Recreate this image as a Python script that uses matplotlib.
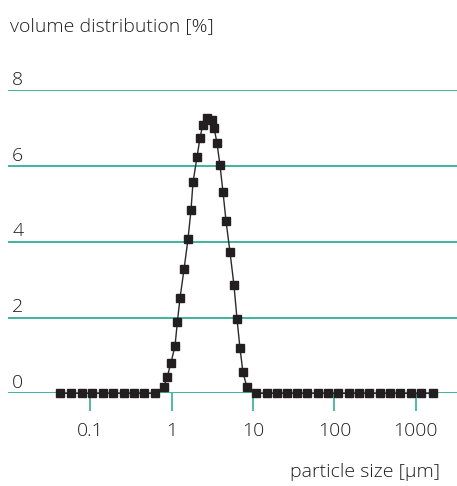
import matplotlib.pyplot as plt
from matplotlib.ticker import FixedLocator, NullLocator

plt.rcParams['font.family'] = ['Open Sans', 'DejaVu Sans']

# particle size [um] and volume distribution [%]
size_um = [0.0424, 0.0574, 0.0783, 0.106, 0.142, 0.192, 0.259, 0.348, 0.460, 0.624,
           0.804, 0.883, 0.98, 1.098, 1.172, 1.265, 1.416, 1.585, 1.726, 1.827,
           2.046, 2.227, 2.403, 2.716, 3.10, 3.31, 3.60, 3.92, 4.27, 4.65,
           5.20, 5.82, 6.34, 6.90, 7.51, 8.41,
           10.9, 14.7, 19.5, 26.3, 34.9, 46.3, 63.2, 83.9, 111, 152, 202, 268,
           362, 481, 638, 865, 1146, 1610]
volume_pct = [0, 0, 0, 0, 0, 0, 0, 0, 0, 0,
              0.17, 0.44, 0.81, 1.25, 1.87, 2.51, 3.27, 4.07, 4.84, 5.57,
              6.24, 6.74, 7.09, 7.28, 7.22, 7.02, 6.61, 6.02, 5.31, 4.55,
              3.73, 2.86, 1.97, 1.19, 0.55, 0.16,
              0, 0, 0, 0, 0, 0, 0, 0, 0, 0, 0, 0,
              0, 0, 0, 0, 0, 0]

x_ticks = [0.1, 1, 10, 100, 1000]
x_labels = ['0.1', '1', '10', '100', '1000']
y_levels = [0, 2, 4, 6, 8]

teal = '#1fa88e'
text_col = '#1e1e1e'
fsize = 14

fig = plt.figure(figsize=(4.57, 4.86), dpi=100)
ax = fig.add_axes([8 / 457, 1 - 393.3 / 486, 1 - 8 / 457, (393.3 - 90.4) / 486])

for lvl in y_levels:
    ax.axhline(lvl, color=teal, lw=1.2, zorder=1)
    ax.annotate(str(lvl), xy=(0, lvl), xycoords=('axes fraction', 'data'),
                xytext=(3, 4), textcoords='offset points', ha='left', va='baseline',
                fontsize=fsize, color=text_col, fontweight='light')

ax.plot(size_um, volume_pct, color='#2a2a2a', lw=1.0, marker='s', markersize=5.2,
        markerfacecolor='#231f20', markeredgecolor='#231f20', clip_on=False, zorder=3)

ax.set_xscale('log')
ax.set_xlim(10 ** -2.011, 10 ** 3.505)
ax.set_ylim(0, 8)

ax.xaxis.set_major_locator(FixedLocator(x_ticks))
ax.xaxis.set_minor_locator(NullLocator())
ax.set_xticklabels(x_labels, fontweight='light')
ax.tick_params(axis='x', direction='out', length=13, width=1.1, color=teal,
               pad=8, labelsize=fsize, labelcolor=text_col)
ax.set_yticks([])
for s in ax.spines.values():
    s.set_visible(False)

fig.text(10 / 457, 1 - 26 / 486, 'volume distribution [%]', ha='left', va='center',
         fontsize=fsize, color=text_col, fontweight='light')
fig.text(440 / 457, 1 - 472 / 486, 'particle size [µm]', ha='right', va='center',
         fontsize=fsize, color=text_col, fontweight='light')

fig.savefig('out.png', dpi=100)
